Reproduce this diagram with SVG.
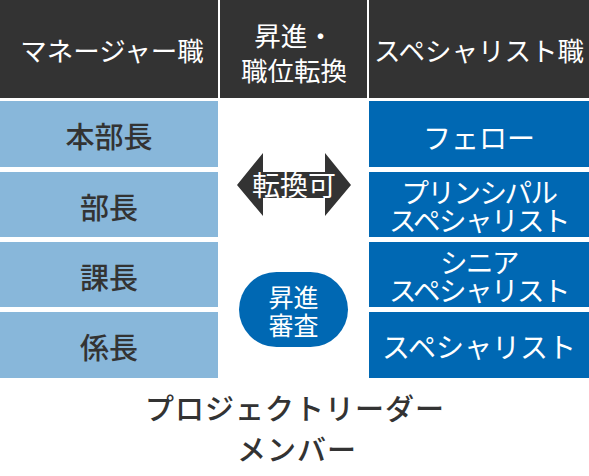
<svg xmlns="http://www.w3.org/2000/svg" width="589" height="476" viewBox="0 0 589 476">
<style>
text{font-family:"Noto Sans CJK JP","Noto Sans",sans-serif;text-anchor:middle;dominant-baseline:central;font-weight:400}
.hd{fill:#333333}
.ht{fill:#ffffff;font-size:26.5px}
.lb{fill:#88B7DA}
.lt{fill:#333333;font-size:29px;font-weight:500}
.db{fill:#0068B3}
.dt{fill:#ffffff;font-size:28px}
.d2{fill:#ffffff;font-size:27.5px;letter-spacing:-1.5px}
.bt{fill:#333333;font-size:29px;letter-spacing:1px;font-weight:500}
</style>
<rect width="589" height="476" fill="#ffffff"/>
<g id="header">
<rect class="hd" x="0" y="0" width="218" height="98"/>
<rect class="hd" x="220" y="0" width="147" height="98"/>
<rect class="hd" x="369" y="0" width="220" height="98"/>
<text class="ht" x="112" y="49">マネージャー職</text>
<text class="ht" x="294" y="34">昇進・</text>
<text class="ht" x="294" y="69">職位転換</text>
<text class="ht" x="479" y="49">スペシャリスト職</text>
</g>
<g id="mgr1"><rect class="lb" x="0" y="101" width="218" height="66"/><text class="lt" x="109" y="135">本部長</text></g>
<g id="mgr2"><rect class="lb" x="0" y="172" width="218" height="65"/><text class="lt" x="109" y="206">部長</text></g>
<g id="mgr3"><rect class="lb" x="0" y="242" width="218" height="65"/><text class="lt" x="109" y="276">課長</text></g>
<g id="mgr4"><rect class="lb" x="0" y="312" width="218" height="66"/><text class="lt" x="109" y="346">係長</text></g>
<g id="sp1"><rect class="db" x="369" y="101" width="220" height="66"/><text class="dt" x="479" y="137">フェロー</text></g>
<g id="sp2"><rect class="db" x="369" y="172" width="220" height="65"/><text class="d2" x="479" y="191">プリンシパル</text><text class="d2" x="479" y="219">スペシャリスト</text></g>
<g id="sp3"><rect class="db" x="369" y="242" width="220" height="65"/><text class="d2" x="479" y="261">シニア</text><text class="d2" x="479" y="289">スペシャリスト</text></g>
<g id="sp4"><rect class="db" x="369" y="312" width="220" height="66"/><text class="dt" x="479" y="346">スペシャリスト</text></g>
<g id="connectors">
<polygon fill="#333333" points="237,185 263,153 263,172 325,172 325,153 351,185 325,216 325,198 263,198 263,216"/>
</g>
<g id="transfer"><text fill="#ffffff" font-size="28" x="294" y="184">転換可</text></g>
<g id="promotion"><rect class="db" x="239" y="272" width="109" height="75" rx="37.5"/><text fill="#ffffff" font-size="25" x="293.5" y="296">昇進</text><text fill="#ffffff" font-size="25" x="293.5" y="324">審査</text></g>
<g id="bottom"><text class="bt" x="295" y="407">プロジェクトリーダー</text><text class="bt" x="297" y="448">メンバー</text></g>
</svg>
